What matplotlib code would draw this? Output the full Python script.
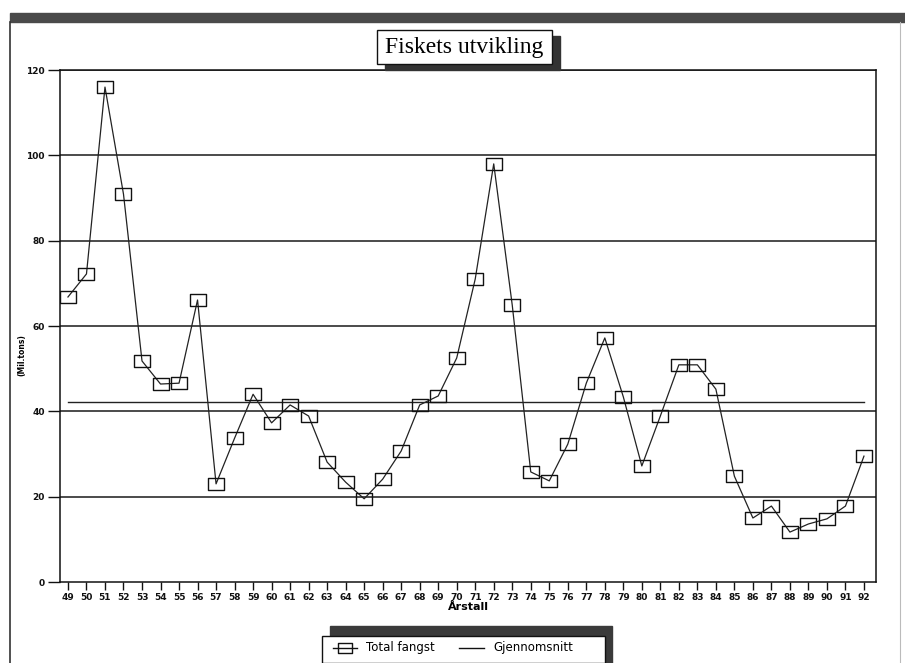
import numpy as np
import matplotlib
matplotlib.use("Agg")
import matplotlib.pyplot as plt
from matplotlib.path import Path
from matplotlib.patches import Rectangle
from matplotlib.lines import Line2D

# data
years = list(range(49, 93))
total_fangst = [66.8, 72.2, 116.0, 90.9, 51.8, 46.4, 46.6, 66.1, 23.0, 33.7,
                44.0, 37.3, 41.5, 38.9, 28.1, 23.4, 19.5, 24.1, 30.7, 41.5,
                43.6, 52.5, 71.0, 98.0, 64.9, 25.8, 23.7, 32.3, 46.6, 57.2,
                43.4, 27.2, 38.9, 50.9, 50.9, 45.2, 24.8, 15.0, 17.8, 11.7,
                13.6, 14.8, 17.8, 29.5]
gjennomsnitt = 42.3
y_ticks = [0, 20, 40, 60, 80, 100, 120]

# wide, flat box marker like the old plotter output
box = Path([(-1.3, -1), (1.3, -1), (1.3, 1), (-1.3, 1), (-1.3, -1)],
           [Path.MOVETO, Path.LINETO, Path.LINETO, Path.LINETO, Path.CLOSEPOLY])

fig = plt.figure(figsize=(9.05, 6.63), dpi=100)
ax = fig.add_axes([60 / 905, 1 - 582 / 663, 816 / 905, 512 / 663])

for y in y_ticks[1:]:
    ax.axhline(y, color='#1a1a1a', lw=1.1, zorder=1)

ax.plot(years, total_fangst, color='#222222', lw=0.9, marker=box,
        markersize=12, markerfacecolor='none', markeredgecolor='#111111',
        markeredgewidth=1.0, zorder=3)
ax.plot([years[0], years[-1]], [gjennomsnitt, gjennomsnitt],
        color='#222222', lw=1.0, zorder=2)

ax.set_xlim(48.57, 92.65)
ax.set_ylim(0, 120)
ax.set_xticks(years)
ax.set_xticklabels([str(y) for y in years])
ax.set_yticks(y_ticks)
ax.tick_params(axis='x', direction='out', length=6, width=1, pad=2,
               labelsize=6.5, colors='#111111')
ax.tick_params(axis='y', direction='out', length=9, width=1, pad=2,
               labelsize=6.5, colors='#111111')
for lab in ax.get_xticklabels() + ax.get_yticklabels():
    lab.set_fontweight('bold')
for s in ax.spines.values():
    s.set_color('#111111')
    s.set_linewidth(1.1)

ax.set_xlabel('Årstall', fontsize=8, fontweight='bold', labelpad=0)
fig.text(22 / 905, 1 - 355 / 663, '(Mil.tons)', rotation=90, fontsize=5.5,
         fontweight='bold', ha='center', va='center')

# page frame: left border and dark top band
fig.add_artist(Line2D([10 / 905, 10 / 905], [0, 1 - 22 / 663],
                      color='#333333', lw=1.2))
fig.add_artist(Line2D([900 / 905, 900 / 905], [0, 1 - 22 / 663],
                      color='#bbbbbb', lw=0.8))
fig.add_artist(Rectangle((10 / 905, 1 - 22 / 663), 895 / 905, 9 / 663,
                         color='#4a4a4a', transform=fig.transFigure))

# title box with drop shadow
fig.add_artist(Rectangle((385 / 905, 1 - 70 / 663), 175 / 905, 34 / 663,
                         color='#333333', transform=fig.transFigure))
fig.add_artist(Rectangle((377 / 905, 1 - 64 / 663), 175 / 905, 34 / 663,
                         facecolor='white', edgecolor='#111111', lw=1.0,
                         transform=fig.transFigure))
fig.text(464 / 905, 1 - 47 / 663, 'Fiskets utvikling', fontsize=17,
         family='Liberation Serif', ha='center', va='center')

# legend box with 3D shadow top and right
fig.add_artist(Rectangle((330 / 905, 0), 282 / 905, 37 / 663,
                         color='#3a3a3a', transform=fig.transFigure))
fig.add_artist(Rectangle((322 / 905, 0), 283 / 905, 27 / 663,
                         facecolor='white', edgecolor='#111111', lw=1.0,
                         transform=fig.transFigure))
ly = 1 - 648 / 663
fig.add_artist(Line2D([333 / 905, 345 / 905, 357 / 905], [ly, ly, ly],
                      color='#111111', lw=1.0, marker=box, markersize=10,
                      markevery=[1], markerfacecolor='none',
                      markeredgecolor='#111111'))
fig.text(366 / 905, ly, 'Total fangst', fontsize=8.5, va='center')
fig.add_artist(Line2D([459 / 905, 484 / 905], [ly, ly], color='#111111', lw=1.0))
fig.text(493 / 905, ly, 'Gjennomsnitt', fontsize=8.5, va='center')

fig.savefig('out.png', dpi=100)
